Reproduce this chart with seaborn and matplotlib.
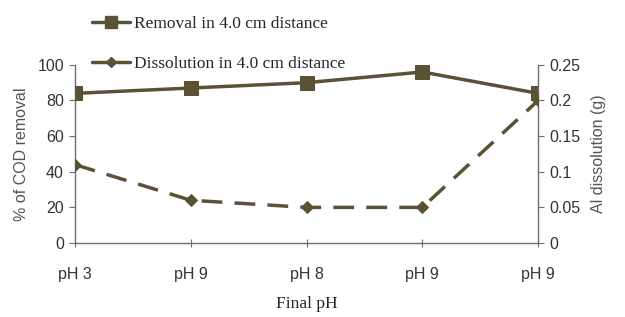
import matplotlib
matplotlib.use("Agg")
import matplotlib.pyplot as plt
import seaborn as sns
import pandas as pd
from matplotlib.lines import Line2D

categories = ["pH 3", "pH 9", "pH 8", "pH 9", "pH 9"]
removal = [84, 87, 90, 96, 84]
dissolution = [0.11, 0.06, 0.05, 0.05, 0.20]

sns.set_style("white")
plt.rcParams['font.family'] = ['Liberation Sans', 'DejaVu Sans']

color = "#5b5236"
axcol = "#6e6e6e"
txtcol = "#555555"

df = pd.DataFrame({"pos": list(range(len(categories))), "removal": removal, "dissolution": dissolution})

fig = plt.figure(figsize=(6.25, 3.17), dpi=100)
ax = fig.add_axes([0.12, 0.2334, 0.741, 0.562])
ax2 = ax.twinx()

sns.lineplot(data=df, x="pos", y="removal", ax=ax, color=color, lw=2.5,
             marker="s", markersize=10, markeredgecolor=color, zorder=3)
sns.lineplot(data=df, x="pos", y="dissolution", ax=ax2, color=color, lw=2.5,
             marker="D", markersize=6, markeredgecolor=color, zorder=3)
ax2.lines[0].set_dashes([6, 3.5])

ax.set_xlim(0, len(categories) - 1)
ax.set_ylim(0, 100)
ax2.set_ylim(0, 0.25)
ax.set_yticks([0, 20, 40, 60, 80, 100])
ax2.set_yticks([0, 0.05, 0.1, 0.15, 0.2, 0.25])
ax2.set_yticklabels(["0", "0.05", "0.1", "0.15", "0.2", "0.25"])
ax.set_xticks(df["pos"])
ax.set_xticklabels(categories)

for a in (ax, ax2):
    for s in a.spines.values():
        s.set_visible(False)
    a.grid(False)

ax.spines["left"].set_visible(True)
ax.spines["bottom"].set_visible(True)
ax2.spines["right"].set_visible(True)
for s in (ax.spines["left"], ax.spines["bottom"], ax2.spines["right"]):
    s.set_color(axcol)
    s.set_linewidth(1.0)

ax.tick_params(axis="y", direction="out", length=4, color=axcol, labelsize=11.5, labelcolor="#333333", pad=4, left=True)
ax.tick_params(axis="x", direction="inout", length=6, color=axcol, labelsize=11.5, labelcolor="#333333", pad=14, bottom=True)
ax2.tick_params(axis="y", direction="out", length=4, color=axcol, labelsize=11.5, labelcolor="#333333", pad=4, right=True)

ax.set_xlabel("Final pH", family="Liberation Serif", fontsize=12.5, color="#222222", labelpad=10)
ax.set_ylabel("% of COD removal", fontsize=11.5, color=txtcol, labelpad=6)
ax2.set_ylabel("Al dissolution (g)", fontsize=11.5, color=txtcol, labelpad=8)

handles = [
    Line2D([], [], color=color, lw=2.5, marker="s", markersize=8),
    Line2D([], [], color=color, lw=2.5, marker="D", markersize=5),
]
fig.legend(handles, ["Removal in 4.0 cm distance", "Dissolution in 4.0 cm distance"],
           loc="upper left", bbox_to_anchor=(0.122, 1.0), frameon=False,
           prop={"family": "Liberation Serif", "size": 12.5}, handlelength=2.2,
           labelspacing=1.4, handletextpad=0.2)

fig.savefig("out.png", dpi=100)
